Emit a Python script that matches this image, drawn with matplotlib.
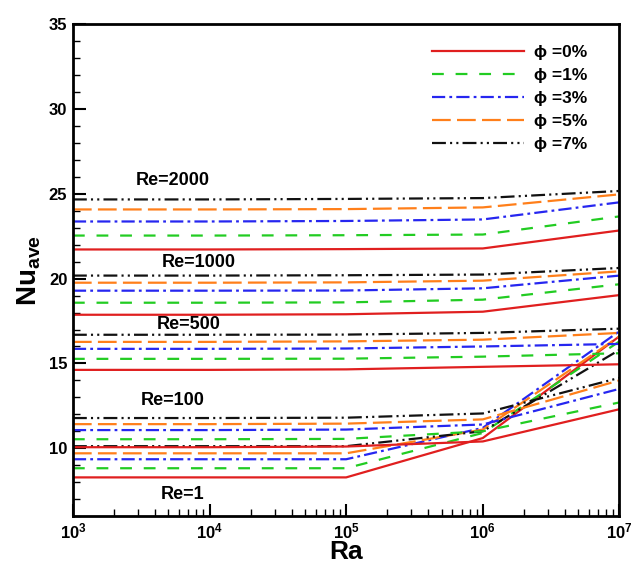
import math
import matplotlib
matplotlib.use('Agg')
import matplotlib.pyplot as plt
from matplotlib.ticker import FixedLocator, FuncFormatter, MultipleLocator

plt.rcParams['font.family'] = ['Liberation Sans', 'DejaVu Sans']
plt.rcParams['font.weight'] = 'bold'
plt.rcParams['mathtext.fontset'] = 'custom'
plt.rcParams['mathtext.rm'] = 'Liberation Sans:bold'
plt.rcParams['mathtext.default'] = 'rm'
plt.rcParams['lines.scale_dashes'] = False

ra = [1e3, 1e4, 1e5, 1e6, 1e7]

# average Nusselt number per Reynolds number, one list per volume fraction
nu_re1 = {
    0: [8.28, 8.28, 8.28, 10.6, 16.6],
    1: [8.82, 8.82, 8.82, 10.9, 16.3],
    3: [9.35, 9.35, 9.35, 11.2, 16.9],
    5: [9.70, 9.70, 9.70, 11.1, 16.6],
    7: [10.12, 10.12, 10.12, 11.0, 15.8],
}
nu_re100 = {
    0: [10.06, 10.06, 10.1, 10.4, 12.3],
    1: [10.53, 10.53, 10.55, 11.0, 12.7],
    3: [11.07, 11.07, 11.1, 11.4, 13.5],
    5: [11.42, 11.42, 11.45, 11.7, 14.0],
    7: [11.78, 11.78, 11.8, 12.05, 14.15],
}
nu_re500 = {
    0: [14.62, 14.62, 14.65, 14.8, 14.95],
    1: [15.27, 15.27, 15.28, 15.4, 15.6],
    3: [15.86, 15.86, 15.88, 16.0, 16.15],
    5: [16.27, 16.27, 16.3, 16.4, 16.8],
    7: [16.69, 16.69, 16.7, 16.8, 17.05],
}
nu_re1000 = {
    0: [17.87, 17.87, 17.9, 18.05, 19.03],
    1: [18.58, 18.58, 18.6, 18.76, 19.67],
    3: [19.29, 19.29, 19.3, 19.43, 20.18],
    5: [19.76, 19.76, 19.78, 19.88, 20.43],
    7: [20.18, 20.18, 20.2, 20.24, 20.63],
}
nu_re2000 = {
    0: [21.72, 21.72, 21.74, 21.78, 22.84],
    1: [22.54, 22.54, 22.56, 22.6, 23.67],
    3: [23.37, 23.37, 23.4, 23.49, 24.5],
    5: [24.08, 24.08, 24.1, 24.2, 24.97],
    7: [24.67, 24.67, 24.7, 24.75, 25.17],
}

groups = [nu_re1, nu_re100, nu_re500, nu_re1000, nu_re2000]
re_labels = ['Re=1', 'Re=100', 'Re=500', 'Re=1000', 'Re=2000']
label_pos = [(6.3e3, 7.3), (5.4e3, 12.8), (7.0e3, 17.3), (8.3e3, 20.95), (5.4e3, 25.8)]

styles = {
    0: dict(color='#e01f1f', linestyle='-'),
    1: dict(color='#22cc22', dashes=(8.5, 8.5)),
    3: dict(color='#2626f0', dashes=(9.5, 3, 2, 3)),
    5: dict(color='#ff7f1a', dashes=(13.5, 4.5)),
    7: dict(color='#111111', dashes=(10, 3, 1.5, 3, 1.5, 3)),
}

fig = plt.figure(figsize=(6.34, 5.64), dpi=100)
ax = fig.add_axes([0.115, 0.085, 0.862, 0.872])

for i, g in enumerate(groups):
    for phi in [0, 1, 3, 5, 7]:
        ax.plot(ra, g[phi], lw=1.6, label=f'ϕ ={phi}%' if i == 0 else None, **styles[phi])

for txt, (xp, yp) in zip(re_labels, label_pos):
    ax.text(xp, yp, txt, ha='center', va='center', fontsize=13, fontweight='bold')

ax.set_xscale('log')
ax.set_xlim(1e3, 1e7)
ax.set_ylim(6, 35)
ax.yaxis.set_major_locator(FixedLocator([10, 15, 20, 25, 30, 35]))
ax.yaxis.set_minor_locator(MultipleLocator(1))
ax.xaxis.set_major_formatter(FuncFormatter(lambda v, p: r'$10^{%d}$' % round(math.log10(v))))

ax.tick_params(which='both', direction='in', top=False, right=False, width=1.5)
ax.tick_params(which='major', length=9, labelsize=12, pad=4)
ax.tick_params(which='minor', length=5, width=1)
for s in ax.spines.values():
    s.set_linewidth(2)

ax.set_xlabel('Ra', fontsize=19, fontweight='bold', labelpad=-1)
ax.set_ylabel(r'Nu$_{ave}$', fontsize=20, fontweight='bold', labelpad=4)

ax.legend(loc='upper right', bbox_to_anchor=(0.97, 0.99), frameon=False, handlelength=5.3,
          fontsize=12.5, labelspacing=0.45, handletextpad=0.6)

fig.savefig('out.png', dpi=100)
